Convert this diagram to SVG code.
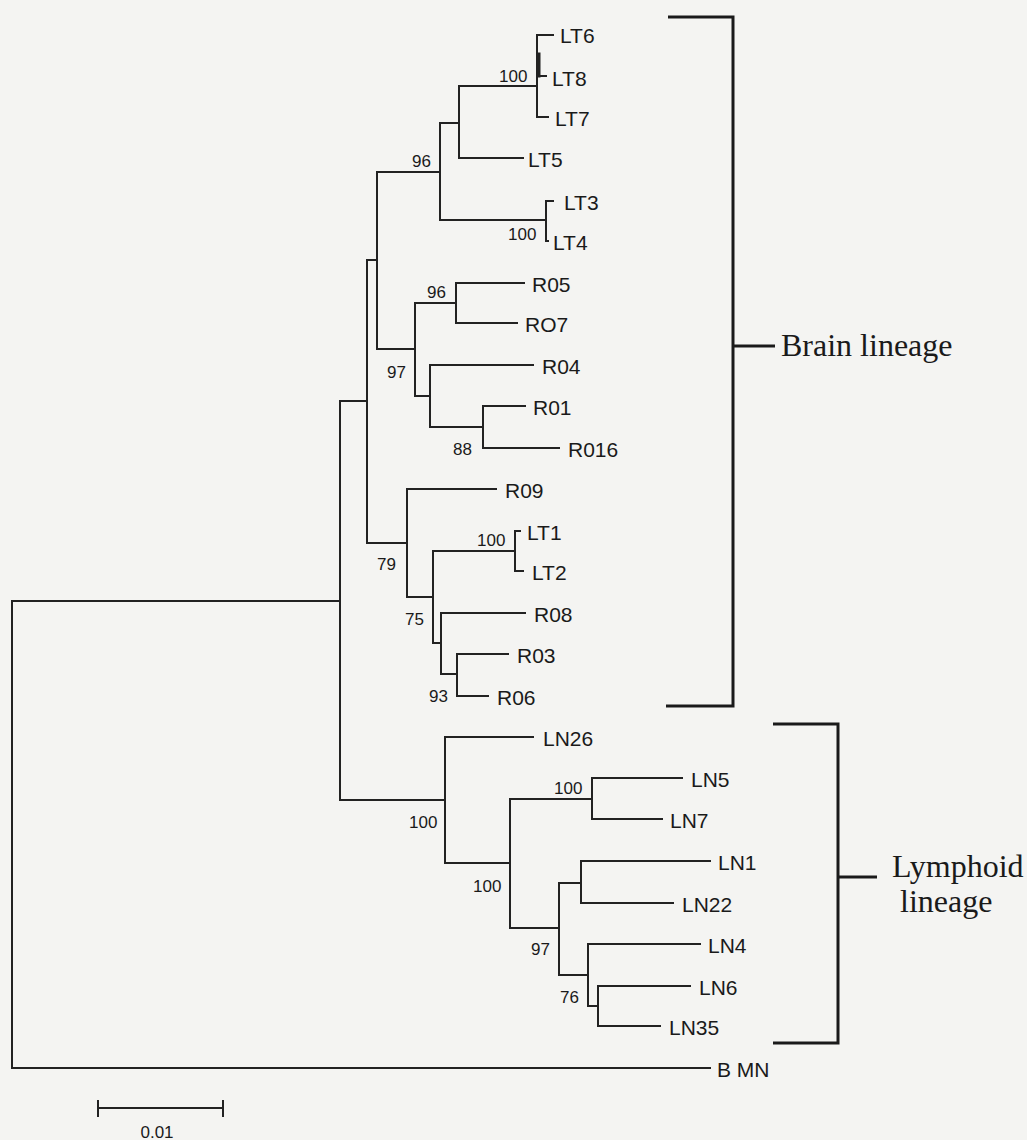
<svg xmlns="http://www.w3.org/2000/svg" width="1027" height="1140" viewBox="0 0 1027 1140">
<style>
.br{fill:none;stroke:#222;stroke-width:2;stroke-linecap:square}
.bk{fill:none;stroke:#1a1a1a;stroke-width:3}
.lf{font-family:"Liberation Sans",Arial,sans-serif;font-size:21px;fill:#1a1a1a}
.bs{font-family:"Liberation Sans",Arial,sans-serif;font-size:17px;fill:#1a1a1a}
.cl{font-family:"Liberation Serif","Times New Roman",serif;font-size:32px;fill:#1a1a1a}
</style>
<rect width="1027" height="1140" fill="#f4f4f2"/>
<g id="connectors" class="br">
<path d="M12 601V1068M12 601H340M12 1068H710"/>
<path d="M340 401V800M340 401H367M340 800H445"/>
<path d="M367 260V543M367 260H377M367 543H407"/>
<path d="M377 172V349M377 172H440M377 349H415"/>
<path d="M440 123V220M440 123H459M440 220H546"/>
<path d="M459 86V158M459 86H537M459 158H523"/>
<path d="M537 35V117M537 35H553M539 76H546M537 117H548"/>
<path d="M539 54V76" stroke-width="3"/>
<path d="M546 201V241M546 201H553M546 241H548"/>
<path d="M415 303V396M415 303H456M415 396H430"/>
<path d="M456 283V323M456 283H524M456 323H517"/>
<path d="M430 365V427M430 365H533M430 427H483"/>
<path d="M483 406V448M483 406H525M483 448H559"/>
<path d="M407 489V597M407 489H496M407 597H433"/>
<path d="M433 551V643M433 551H515M433 643H441"/>
<path d="M515 531V571M515 531H520M515 571H523"/>
<path d="M441 613V674M441 613H525M441 674H457"/>
<path d="M457 654V696M457 654H508M457 696H488"/>
<path d="M445 737V863M445 737H533M445 863H510"/>
<path d="M510 799V928M510 799H592M510 928H559"/>
<path d="M592 778V819M592 778H682M592 819H662"/>
<path d="M559 883V975M559 883H581M559 975H588"/>
<path d="M581 861V903M581 861H710M581 903H673"/>
<path d="M588 944V1006M588 944H700M588 1006H598"/>
<path d="M598 986V1026M598 986H690M598 1026H660"/>
</g>
<g id="leaves">
<g id="n-LT6"><text class="lf" x="560" y="43">LT6</text></g>
<g id="n-LT8"><text class="lf" x="552" y="86">LT8</text></g>
<g id="n-LT7"><text class="lf" x="555" y="126">LT7</text></g>
<g id="n-LT5"><text class="lf" x="528" y="167">LT5</text></g>
<g id="n-LT3"><text class="lf" x="564" y="210">LT3</text></g>
<g id="n-LT4"><text class="lf" x="553" y="250">LT4</text></g>
<g id="n-R05"><text class="lf" x="532" y="292">R05</text></g>
<g id="n-RO7"><text class="lf" x="525" y="332">RO7</text></g>
<g id="n-R04"><text class="lf" x="542" y="374">R04</text></g>
<g id="n-R01"><text class="lf" x="533" y="415">R01</text></g>
<g id="n-R016"><text class="lf" x="568" y="457">R016</text></g>
<g id="n-R09"><text class="lf" x="505" y="498">R09</text></g>
<g id="n-LT1"><text class="lf" x="527" y="540">LT1</text></g>
<g id="n-LT2"><text class="lf" x="532" y="580">LT2</text></g>
<g id="n-R08"><text class="lf" x="534" y="622">R08</text></g>
<g id="n-R03"><text class="lf" x="517" y="663">R03</text></g>
<g id="n-R06"><text class="lf" x="497" y="705">R06</text></g>
<g id="n-LN26"><text class="lf" x="543" y="746">LN26</text></g>
<g id="n-LN5"><text class="lf" x="691" y="787">LN5</text></g>
<g id="n-LN7"><text class="lf" x="670" y="828">LN7</text></g>
<g id="n-LN1"><text class="lf" x="718" y="870">LN1</text></g>
<g id="n-LN22"><text class="lf" x="682" y="912">LN22</text></g>
<g id="n-LN4"><text class="lf" x="708" y="953">LN4</text></g>
<g id="n-LN6"><text class="lf" x="699" y="995">LN6</text></g>
<g id="n-LN35"><text class="lf" x="669" y="1035">LN35</text></g>
<g id="n-BMN"><text class="lf" x="717" y="1077">B MN</text></g>
</g>
<g id="bootstrap">
<text class="bs" x="499" y="82">100</text>
<text class="bs" x="412" y="167">96</text>
<text class="bs" x="508" y="240">100</text>
<text class="bs" x="427" y="298">96</text>
<text class="bs" x="387" y="378">97</text>
<text class="bs" x="453" y="455">88</text>
<text class="bs" x="477" y="546">100</text>
<text class="bs" x="377" y="570">79</text>
<text class="bs" x="405" y="625">75</text>
<text class="bs" x="429" y="702">93</text>
<text class="bs" x="409" y="828">100</text>
<text class="bs" x="554" y="794">100</text>
<text class="bs" x="473" y="892">100</text>
<text class="bs" x="531" y="955">97</text>
<text class="bs" x="560" y="1003">76</text>
</g>
<g id="brain-lineage">
<path class="bk" d="M668 17H733V706H666M733 346H775"/>
<text class="cl" x="781" y="356">Brain lineage</text>
</g>
<g id="lymphoid-lineage">
<path class="bk" d="M773 724H838V1043H773M838 877H877"/>
<text class="cl" x="892" y="877">Lymphoid</text>
<text class="cl" x="900" y="912">lineage</text>
</g>
<g id="scale-bar">
<path class="br" d="M98 1108H223M98 1101V1116M223 1101V1116"/>
<text class="bs" x="157" y="1138" text-anchor="middle">0.01</text>
</g>
</svg>
